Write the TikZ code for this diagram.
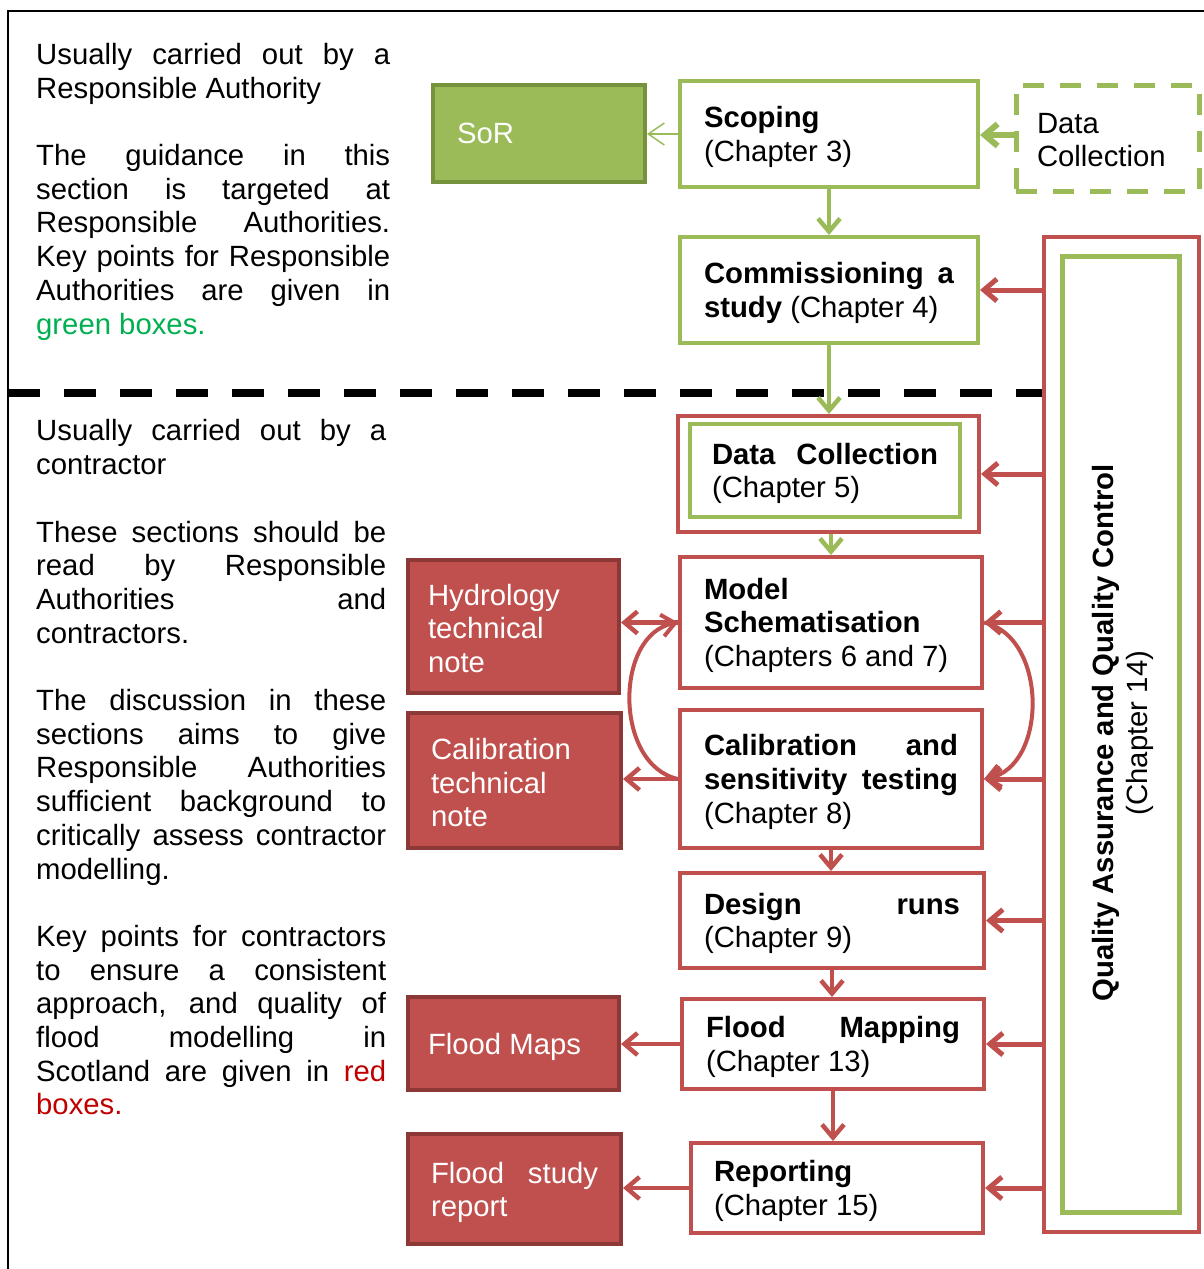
\documentclass[tikz,border=0pt]{standalone}
\usepackage{fontspec}
\setmainfont{Liberation Sans}
\usetikzlibrary{arrows.meta}
\definecolor{ogreen}{HTML}{9BBB59}
\definecolor{dgreen}{HTML}{76923C}
\definecolor{ored}{HTML}{C0504D}
\definecolor{dred}{HTML}{8C3836}
\definecolor{tgreen}{HTML}{00B050}
\definecolor{tred}{HTML}{C00000}
\setlength{\parindent}{0pt}
\newcommand{\tstrut}[1][27pt]{\rule{0pt}{#1}}
\begin{document}
\begin{tikzpicture}[x=1pt,y=-1pt,
  every node/.style={font=\fontsize{29.3pt}{33.7pt}\selectfont,
    execute at begin node={\hyphenpenalty=10000 \exhyphenpenalty=10000 \tolerance=10000 \hbadness=10000}},
  wbox/.style={draw, line width=4pt, fill=white, inner xsep=0pt, inner ysep=0pt, align=justify},
  gbox/.style={wbox, draw=ogreen},
  rbox/.style={wbox, draw=ored},
  rnote/.style={draw=dred, fill=ored, line width=4pt, text=white, inner xsep=0pt, inner ysep=0pt, align=justify},
  tipbarb/.style={-{Straight Barb[length=13pt,width=22pt]}},
  garrow/.style={draw=ogreen, line width=4.5pt, tipbarb},
  rarrow/.style={draw=ored, line width=4.5pt, tipbarb},
  thinarrow/.style={draw=ogreen, line width=1.5pt, -{Straight Barb[length=16pt,width=22pt]}},
  sidetext/.style={anchor=north west, inner sep=0pt, align=justify}
]
\useasboundingbox (0,0) rectangle (1204,1269);
% frame and separator
\draw[line width=2.5pt] (8,1269) -- (8,11) -- (1204,11);
\draw[line width=8pt, dash pattern=on 32pt off 24pt] (8,393) -- (1044,393);

% left texts
\node[sidetext, text width=354pt] (toptext) at (36,43) {\setlength{\parskip}{33.7pt}%
Usually carried out by a\linebreak Responsible Authority\par
The guidance in this\linebreak section is targeted at\linebreak Responsible Authorities.\linebreak Key points for Responsible\linebreak Authorities are given in\linebreak {\color{tgreen}green boxes.}};
\node[sidetext, text width=350pt] (bottext) at (36,419.5) {\setlength{\parskip}{33.7pt}%
Usually carried out by a\linebreak contractor\par
These sections should be\linebreak read by Responsible\linebreak Authorities and\linebreak contractors.\par
The discussion in these\linebreak sections aims to give\linebreak Responsible Authorities\linebreak sufficient background to\linebreak critically assess contractor\linebreak modelling.\par
Key points for contractors\linebreak to ensure a consistent\linebreak approach, and quality of\linebreak flood modelling in\linebreak Scotland are given in {\color{tred}red\linebreak boxes.}};

% QA box
\node[draw=ored, line width=4pt, fill=white, minimum width=155pt, minimum height=995pt, inner sep=0pt] (qa) at (1121.5,734.5) {};
\node[draw=ogreen, line width=5pt, minimum width=117pt, minimum height=956pt, inner sep=0pt] (qain) at (1120.5,734) {};
\node[rotate=90, align=center, inner sep=0pt] (qatext) at (1123,733) {\textbf{Quality Assurance and Quality Control}\\(Chapter 14)};

% top boxes
\node[draw=dgreen, fill=ogreen, line width=4pt, text=white, inner xsep=0pt, inner ysep=0pt, align=left,
  minimum width=212pt, minimum height=97pt, text width=164pt] (sor) at (539,133.5) {SoR};
\node[gbox, minimum width=298pt, minimum height=106pt, text width=250pt] (scop) at (829,134) {\tstrut\textbf{Scoping}\\(Chapter 3)};
\node[draw=ogreen, line width=5pt, dash pattern=on 21pt off 16pt, inner xsep=0pt, inner ysep=0pt, align=left,
  minimum width=183pt, minimum height=106pt, text width=141pt] (dcol) at (1107.5,138) {\tstrut[24.5pt]Data\\Collection};
\node[gbox, minimum width=298pt, minimum height=106pt, text width=250pt] (comm) at (829,290) {\tstrut\textbf{Commissioning a}\linebreak \textbf{study} (Chapter 4)};

% contractor boxes
\node[rbox, minimum width=301pt, minimum height=116pt] (dc5) at (828.5,474) {};
\node[gbox, minimum width=270pt, minimum height=93pt, text width=226pt] (dc5in) at (825,470.5) {\tstrut\textbf{Data Collection}\linebreak (Chapter 5)};
\node[rbox, minimum width=302pt, minimum height=131pt, text width=254pt] (model) at (831,622.5) {\tstrut\textbf{Model}\\\textbf{Schematisation}\\(Chapters 6 and 7)};
\node[rbox, minimum width=302pt, minimum height=138pt, text width=254pt] (calib) at (831,779) {\tstrut\textbf{Calibration and}\linebreak \textbf{sensitivity testing}\linebreak (Chapter 8)};
\node[rbox, minimum width=304pt, minimum height=95pt, text width=256pt] (design) at (832,920.5) {\tstrut\textbf{Design runs}\linebreak (Chapter 9)};
\node[rbox, minimum width=302pt, minimum height=90pt, text width=254pt] (fmap) at (833,1044) {\tstrut\textbf{Flood Mapping}\linebreak (Chapter 13)};
\node[rbox, minimum width=292pt, minimum height=90pt, text width=246pt] (report) at (837,1188) {\tstrut\textbf{Reporting}\\(Chapter 15)};

% red notes
\node[rnote, minimum width=211pt, minimum height=133pt, text width=171pt] (hydro) at (513.5,626.5) {\tstrut[25pt]Hydrology\\technical\\note};
\node[rnote, minimum width=213pt, minimum height=135pt, text width=167pt] (caltn) at (514.5,780.5) {\tstrut[25.5pt]Calibration\\technical\\note};
\node[rnote, minimum width=211pt, minimum height=93pt, text width=171pt] (fmaps) at (513.5,1043.5) {\tstrut[29pt]Flood Maps};
\node[rnote, minimum width=213pt, minimum height=110pt, text width=167pt] (fsr) at (514.5,1189) {\tstrut[28pt]Flood study\linebreak report};

% green arrows
\draw[thinarrow] (scop.west) -- (scop.west -| sor.east);
\draw[garrow, line width=6pt] ([yshift=3pt]dcol.west) -- ([yshift=3pt]dcol.west -| scop.east);
\draw[garrow] (scop.south) -- (comm.north);
\draw[garrow] (comm.south) -- (comm.south |- dc5.north);
\draw[garrow] (model.north |- dc5.south) -- (model.north);

% red vertical arrows
\draw[rarrow] (calib.south) -- (calib.south |- design.north);
\draw[rarrow] (design.south) -- (design.south |- fmap.north);
\draw[rarrow] (fmap.south) -- (fmap.south |- report.north);

% QA arrows
\foreach \n in {comm,dc5,model,calib,design,fmap,report}
  \draw[rarrow, line width=5pt] (\n.east -| qa.west) -- (\n.east);

% arrows to notes
\draw[rarrow] (model.west) -- (model.west -| hydro.east);
\draw[rarrow] (calib.west) -- (calib.west -| caltn.east);
\draw[rarrow] (fmap.west) -- (fmap.west -| fmaps.east);
\draw[rarrow] (report.west) -- (report.west -| fsr.east);

% loop curves
\draw[rarrow, line width=4pt] (calib.west) .. controls +(-64,-14) and +(-64,12) .. (model.west);
\draw[rarrow, line width=4pt] (model.east) .. controls +(64,14) and +(64,-12) .. (calib.east);
\end{tikzpicture}
\end{document}
